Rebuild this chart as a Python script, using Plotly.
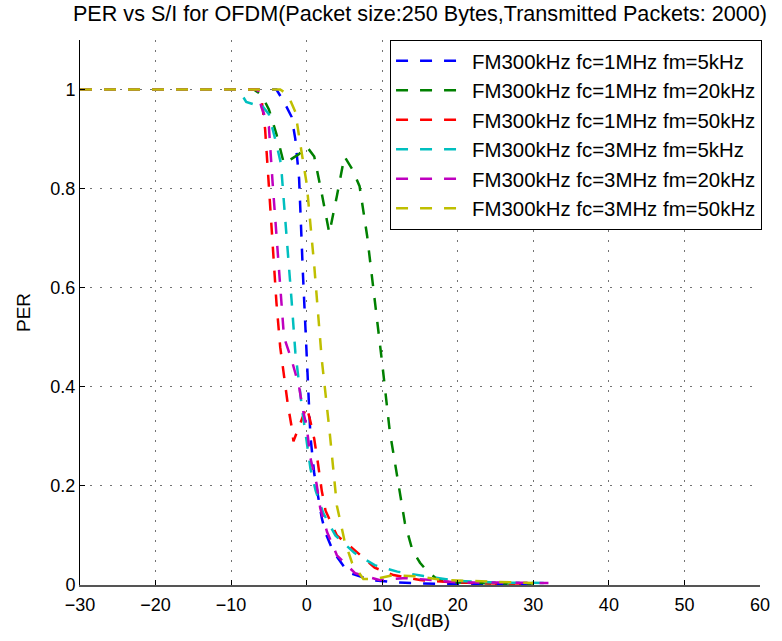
import plotly.graph_objects as go

# Packet error rate vs signal-to-interference ratio (dB), one list pair per interferer setting
names = [
    "FM300kHz fc=1MHz fm=5kHz",
    "FM300kHz fc=1MHz fm=20kHz",
    "FM300kHz fc=1MHz fm=50kHz",
    "FM300kHz fc=3MHz fm=5kHz",
    "FM300kHz fc=3MHz fm=20kHz",
    "FM300kHz fc=3MHz fm=50kHz",
]

si_fc1_fm5 = [-30, -25, -20, -15, -10, -5, -4, -3, -2, -1.5, -1, -0.5, 0, 0.5, 1, 1.5, 2, 2.5, 3.5, 5.5, 8.5, 12, 15, 20, 25, 31]
per_fc1_fm5 = [1, 1, 1, 1, 1, 1, 1, 0.975, 0.945, 0.9, 0.82, 0.63, 0.47, 0.3, 0.225, 0.175, 0.135, 0.105, 0.068, 0.025, 0.01, 0.005, 0.003, 0.002, 0.002, 0.002]

si_fc1_fm20 = [-30, -25, -20, -15, -10, -7, -6, -5, -4, -3, -2, -1, 0, 1, 2, 3, 4, 5, 6, 7, 8, 9, 10, 11, 12, 13, 14, 15, 16, 17, 18, 20, 25, 30]
per_fc1_fm20 = [1, 1, 1, 1, 1, 1, 0.99, 0.96, 0.91, 0.85, 0.86, 0.87, 0.885, 0.865, 0.79, 0.71, 0.785, 0.865, 0.84, 0.805, 0.705, 0.58, 0.447, 0.31, 0.214, 0.125, 0.07, 0.045, 0.027, 0.015, 0.008, 0.005, 0.003, 0.003]

si_fc1_fm50 = [-30, -25, -20, -15, -10, -6.5, -6, -5.5, -5, -4.5, -4, -3.5, -3, -2.5, -2, -1.75, -1, 0, 0.5, 1, 1.5, 2, 2.5, 4, 6, 9, 11.5, 15, 20, 25, 30]
per_fc1_fm50 = [1, 1, 1, 1, 1, 1, 0.985, 0.92, 0.805, 0.69, 0.57, 0.48, 0.42, 0.365, 0.32, 0.29, 0.32, 0.36, 0.33, 0.295, 0.245, 0.19, 0.15, 0.1, 0.075, 0.035, 0.02, 0.01, 0.005, 0.003, 0.003]

si_fc3_fm5 = [-30, -25, -20, -15, -10, -9, -8, -7, -6.3, -5, -4, -3.4, -3, -2.5, -2, -1.5, -1, -0.5, 0, 0.5, 1.2, 2.2, 3.8, 6.3, 9, 12, 15.5, 20, 25, 28.5, 32.5]
per_fc3_fm5 = [1, 1, 1, 1, 1, 1, 0.975, 0.97, 0.975, 0.95, 0.89, 0.85, 0.77, 0.68, 0.575, 0.47, 0.4, 0.343, 0.29, 0.235, 0.19, 0.145, 0.1, 0.065, 0.04, 0.027, 0.018, 0.008, 0.005, 0.004, 0.004]

si_fc3_fm20 = [-30, -25, -20, -15, -10, -6.5, -6, -5, -4.5, -4, -3.5, -3, -2, -1, -0.5, 0, 0.5, 1.3, 1.8, 2.7, 4, 6.4, 9.6, 13.2, 16.5, 20, 25, 32]
per_fc3_fm20 = [1, 1, 1, 1, 1, 1, 0.965, 0.925, 0.81, 0.7, 0.6, 0.5, 0.455, 0.4, 0.353, 0.32, 0.256, 0.205, 0.155, 0.107, 0.06, 0.024, 0.01, 0.014, 0.01, 0.005, 0.005, 0.004]

si_fc3_fm50 = [-30, -25, -20, -15, -10, -5, -3.5, -2.5, -1.5, -1, 0, 1, 2, 3, 3.5, 4, 5, 6, 7.5, 9, 11.5, 15, 18, 22, 26, 30]
per_fc3_fm50 = [1, 1, 1, 1, 1, 1, 1, 0.99, 0.955, 0.905, 0.81, 0.645, 0.455, 0.315, 0.235, 0.16, 0.09, 0.045, 0.012, 0.012, 0.02, 0.017, 0.01, 0.008, 0.006, 0.004]

series_x = [si_fc1_fm5, si_fc1_fm20, si_fc1_fm50, si_fc3_fm5, si_fc3_fm20, si_fc3_fm50]
series_y = [per_fc1_fm5, per_fc1_fm20, per_fc1_fm50, per_fc3_fm5, per_fc3_fm20, per_fc3_fm50]
colors = ["#0000FF", "#008000", "#FF0000", "#00BFBF", "#BF00BF", "#BFBF00"]

x_ticks = [-30, -20, -10, 0, 10, 20, 30, 40, 50, 60]
y_ticks = [0, 0.2, 0.4, 0.6, 0.8, 1]
y_tick_labels = ["0", "0.2", "0.4", "0.6", "0.8", "1"]

FONT = "Liberation Sans, Arial, Helvetica, sans-serif"

fig = go.Figure()
for i, (xs, ys) in enumerate(zip(series_x, series_y)):
    fig.add_trace(go.Scatter(
        x=xs, y=ys, mode="lines", name=names[i],
        line=dict(color=colors[i], width=2.5, dash="12px,12px"),
    ))

fig.update_layout(
    width=782, height=641,
    margin=dict(l=80, r=14, t=40, b=56),
    paper_bgcolor="white", plot_bgcolor="white",
    font=dict(family=FONT, size=18, color="black"),
    title=dict(
        text="PER vs S/I for OFDM(Packet size:250 Bytes,Transmitted Packets: 2000)",
        x=0.5, xref="paper", xanchor="center",
        y=1 - 13 / 641, yref="container", yanchor="middle",
        font=dict(size=21.6),
    ),
    legend=dict(
        x=1.003, y=1.0, xanchor="right", yanchor="top",
        bgcolor="white", bordercolor="black", borderwidth=1,
        font=dict(size=20.4), itemwidth=71, tracegroupgap=0,
    ),
    showlegend=True,
    # x-axis caption placed just under the tick labels
    annotations=[dict(
        text="S/I(dB)", xref="paper", yref="paper", x=0.5, y=-35 / 545,
        xanchor="center", yanchor="middle", showarrow=False,
        font=dict(size=19),
    )],
)

fig.update_xaxes(
    range=[-30, 60], tickvals=x_ticks, ticks="inside", ticklen=5,
    tickcolor="black", showline=True, linecolor="#555555", linewidth=2,
    showgrid=True, gridcolor="rgba(0,0,0,0.55)", griddash="2px,8px", gridwidth=1,
    zeroline=False, ticklabelstandoff=2,
)
fig.update_yaxes(
    range=[0, 1.1], tickvals=y_ticks, ticktext=y_tick_labels, ticks="inside",
    ticklen=5, tickcolor="black", showline=True, linecolor="black", linewidth=1,
    showgrid=True, gridcolor="rgba(0,0,0,0.55)", griddash="2px,8px", gridwidth=1,
    zeroline=False,
    title=dict(text="PER", font=dict(size=19), standoff=14),
)

fig.write_html("out.html")
